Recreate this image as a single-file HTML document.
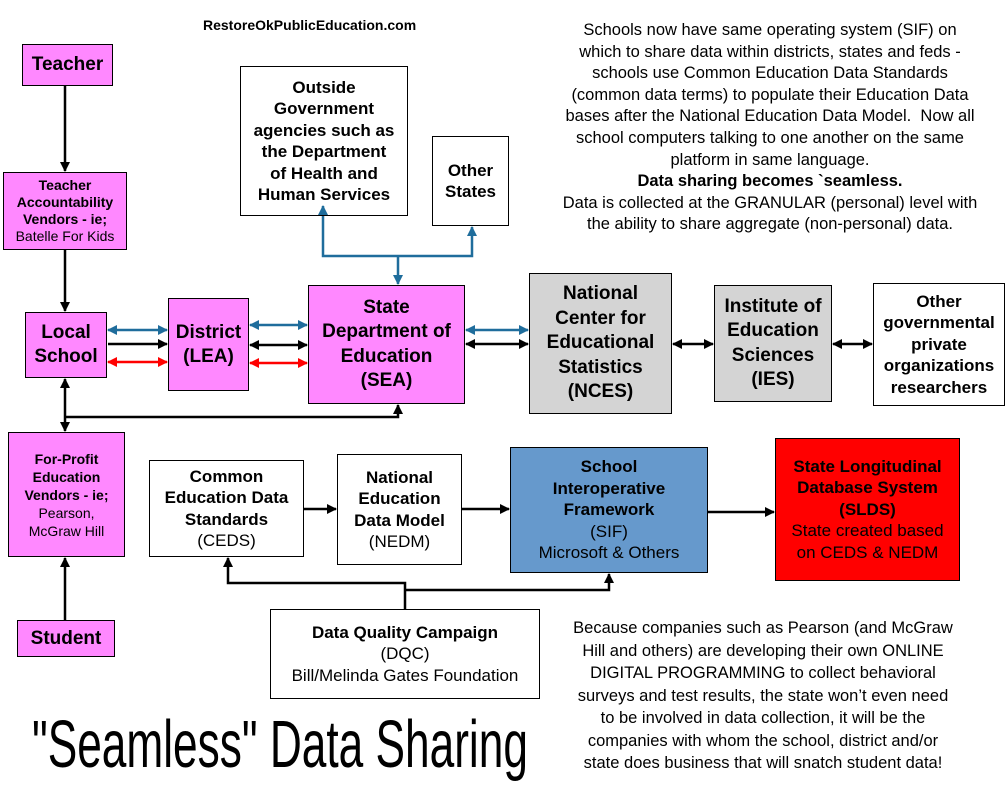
<!DOCTYPE html>
<html><head><meta charset="utf-8"><style>
body{margin:0;width:1007px;height:789px;background:#fff;position:relative;overflow:hidden;font-family:"Liberation Sans",Arial,sans-serif}
.b{position:absolute;border:1px solid #000;box-sizing:border-box;display:flex;align-items:center;justify-content:center;text-align:center;flex-direction:column;color:#000;font-weight:bold}
.p{background:#ff88ff}
.g{background:#d4d4d4}
.n{font-weight:normal}
.t{position:absolute;text-align:center;white-space:nowrap;font-size:16.5px;line-height:21.6px}
svg{position:absolute;left:0;top:0}
</style></head><body>
<svg width="1007" height="789">
<defs>
<marker id="a" viewBox="0 0 10 10" refX="9" refY="5" markerWidth="4" markerHeight="4" orient="auto-start-reverse"><path d="M0,0L10,5L0,10z" fill="#000"/></marker>
<marker id="ab" viewBox="0 0 10 10" refX="9" refY="5" markerWidth="4" markerHeight="4" orient="auto-start-reverse"><path d="M0,0L10,5L0,10z" fill="#1f6d9c"/></marker>
<marker id="ar" viewBox="0 0 10 10" refX="9" refY="5" markerWidth="4" markerHeight="4" orient="auto-start-reverse"><path d="M0,0L10,5L0,10z" fill="#f00"/></marker>
</defs>
<g stroke="#000" stroke-width="2.5" fill="none">
<line x1="65" y1="86" x2="65" y2="171" marker-end="url(#a)"/>
<line x1="65" y1="250" x2="65" y2="311" marker-end="url(#a)"/>
<line x1="65" y1="379" x2="65" y2="431" marker-start="url(#a)" marker-end="url(#a)"/>
<polyline points="65,417 398,417 398,405" marker-end="url(#a)"/>
<line x1="65" y1="620" x2="65" y2="558" marker-end="url(#a)"/>
<line x1="108" y1="344" x2="167" y2="344" marker-end="url(#a)"/>
<line x1="250" y1="345" x2="307" y2="345" marker-start="url(#a)" marker-end="url(#a)"/>
<line x1="466" y1="344" x2="528" y2="344" marker-start="url(#a)" marker-end="url(#a)"/>
<line x1="673" y1="344" x2="713" y2="344" marker-start="url(#a)" marker-end="url(#a)"/>
<line x1="833" y1="344" x2="872" y2="344" marker-start="url(#a)" marker-end="url(#a)"/>
<line x1="304" y1="509" x2="336" y2="509" marker-end="url(#a)"/>
<line x1="462" y1="509" x2="509" y2="509" marker-end="url(#a)"/>
<line x1="708" y1="512" x2="774" y2="512" marker-end="url(#a)"/>
<polyline points="405,609 405,583 228,583 228,558" marker-end="url(#a)"/>
<polyline points="405,590 609,590 609,574" marker-end="url(#a)"/>
</g>
<g stroke="#1f6d9c" stroke-width="2.5" fill="none">
<polyline points="323,206 323,256 472,256 472,227" marker-start="url(#ab)" marker-end="url(#ab)"/>
<line x1="398" y1="256" x2="398" y2="284" marker-end="url(#ab)"/>
<line x1="108" y1="330" x2="167" y2="330" marker-start="url(#ab)" marker-end="url(#ab)"/>
<line x1="250" y1="325" x2="307" y2="325" marker-start="url(#ab)" marker-end="url(#ab)"/>
<line x1="466" y1="330" x2="528" y2="330" marker-start="url(#ab)" marker-end="url(#ab)"/>
</g>
<g stroke="#f00" stroke-width="2.5" fill="none">
<line x1="108" y1="362" x2="167" y2="362" marker-start="url(#ar)" marker-end="url(#ar)"/>
<line x1="250" y1="363" x2="307" y2="363" marker-start="url(#ar)" marker-end="url(#ar)"/>
</g>
</svg>
<div class="t" style="left:203px;top:15px;font-weight:bold;font-size:14px">RestoreOkPublicEducation.com</div>
<div class="b p" style="left:22px;top:44px;width:91px;height:42px;font-size:19px">Teacher</div>
<div class="b p" style="left:3px;top:172px;width:124px;height:78px;font-size:14px;line-height:17px">Teacher<br>Accountability<br>Vendors - ie;<br><span class="n">Batelle For Kids</span></div>
<div class="b p" style="left:25px;top:312px;width:82px;height:66px;font-size:19px;line-height:24px">Local<br>School</div>
<div class="b p" style="left:168px;top:298px;width:81px;height:93px;font-size:19px;line-height:24px">District<br>(LEA)</div>
<div class="b p" style="left:308px;top:285px;width:157px;height:119px;font-size:19px;line-height:24.5px">State<br>Department of<br>Education<br>(SEA)</div>
<div class="b g" style="left:529px;top:273px;width:143px;height:141px;font-size:19px;line-height:24.5px">National<br>Center for<br>Educational<br>Statistics<br>(NCES)</div>
<div class="b g" style="left:714px;top:285px;width:118px;height:117px;font-size:19px;line-height:24.5px">Institute of<br>Education<br>Sciences<br>(IES)</div>
<div class="b" style="left:873px;top:283px;width:132px;height:123px;font-size:17px;line-height:21.5px">Other<br>governmental<br>private<br>organizations<br>researchers</div>
<div class="b" style="left:240px;top:66px;width:168px;height:150px;font-size:17px;line-height:21.5px">Outside<br>Government<br>agencies such as<br>the Department<br>of Health and<br>Human Services</div>
<div class="b" style="left:432px;top:136px;width:77px;height:90px;font-size:17px;line-height:21.5px">Other<br>States</div>
<div class="b p" style="left:8px;top:432px;width:117px;height:125px;font-size:14px;line-height:18px">For-Profit<br>Education<br>Vendors - ie;<br><span class="n">Pearson,<br>McGraw Hill</span></div>
<div class="b p" style="left:17px;top:620px;width:98px;height:37px;font-size:19px">Student</div>
<div class="b" style="left:149px;top:460px;width:155px;height:97px;font-size:17px;line-height:21.5px">Common<br>Education Data<br>Standards<br><span class="n">(CEDS)</span></div>
<div class="b" style="left:337px;top:454px;width:125px;height:111px;font-size:17px;line-height:21.5px">National<br>Education<br>Data Model<br><span class="n">(NEDM)</span></div>
<div class="b" style="left:510px;top:447px;width:198px;height:126px;font-size:17px;line-height:21.5px;background:#6699cc">School<br>Interoperative<br>Framework<br><span class="n">(SIF)<br>Microsoft &amp; Others</span></div>
<div class="b" style="left:775px;top:438px;width:185px;height:143px;font-size:17px;line-height:21.5px;background:#ff0000">State Longitudinal<br>Database System<br>(SLDS)<br><span class="n">State created based<br>on CEDS &amp; NEDM</span></div>
<div class="b" style="left:270px;top:609px;width:270px;height:90px;font-size:17px;line-height:21.5px">Data Quality Campaign<br><span class="n">(DQC)<br>Bill/Melinda Gates Foundation</span></div>
<div class="t" style="left:535px;top:20px;width:470px">Schools now have same operating system (SIF) on<br>which to share data within districts, states and feds -<br>schools use Common Education Data Standards<br>(common data terms) to populate their Education Data<br>bases after the National Education Data Model.&nbsp; Now all<br>school computers talking to one another on the same<br>platform in same language.<br><b>Data sharing becomes `seamless.</b><br>Data is collected at the GRANULAR (personal) level with<br>the ability to share aggregate (non-personal) data.</div>
<div class="t" style="left:528px;top:617px;width:470px;line-height:22.5px">Because companies such as Pearson (and McGraw<br>Hill and others) are developing their own ONLINE<br>DIGITAL PROGRAMMING to collect behavioral<br>surveys and test results, the state won’t even need<br>to be involved in data collection, it will be the<br>companies with whom the school, district and/or<br>state does business that will snatch student data!</div>
<div style="position:absolute;left:32px;top:700px;font-size:67px;line-height:90px;white-space:nowrap;transform:scaleX(0.66);transform-origin:left top">"Seamless" Data Sharing</div>
</body></html>
